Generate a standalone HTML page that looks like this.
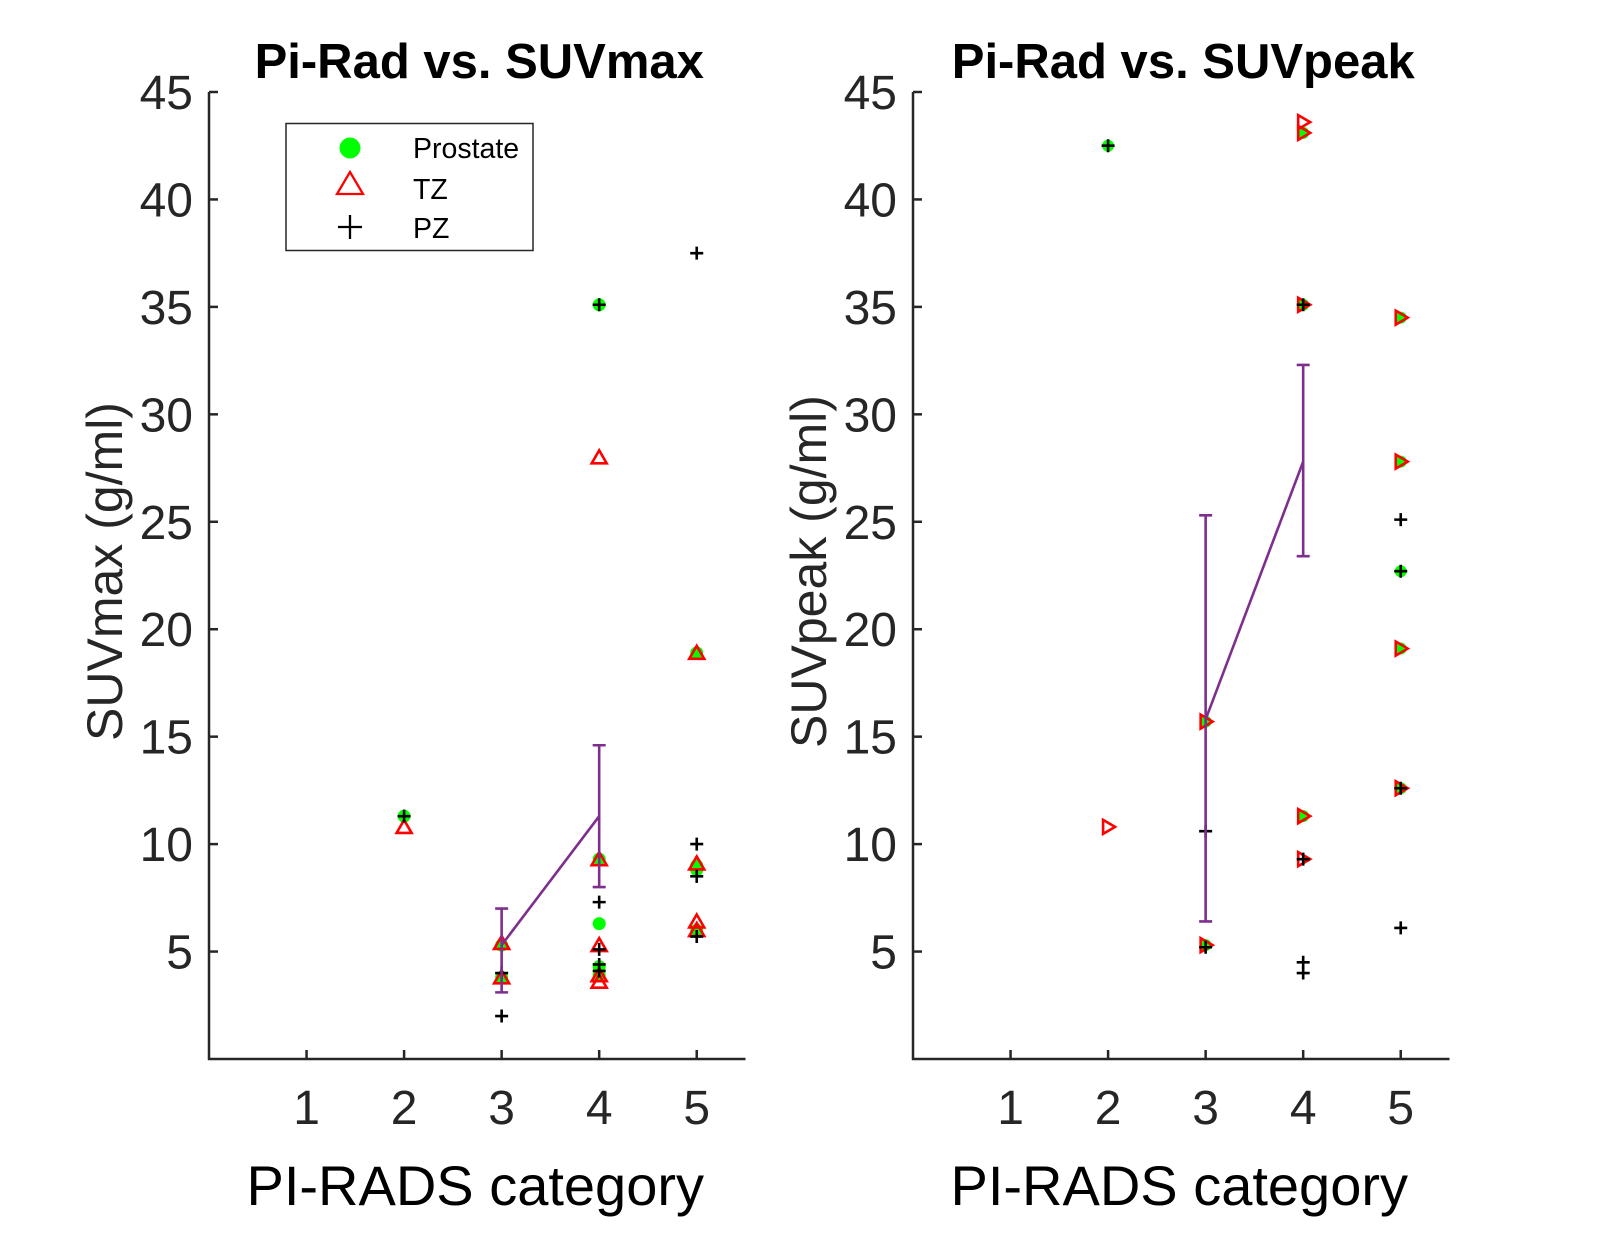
<!DOCTYPE html>
<html><head><meta charset="utf-8">
<style>
html,body{margin:0;padding:0;background:#fff;}
svg{display:block;font-family:"Liberation Sans",Arial,sans-serif;}
</style></head>
<body>
<svg id="chart" width="1601" height="1252" viewBox="0 0 1601 1252" xmlns="http://www.w3.org/2000/svg"></svg>
<script>
// ---------- data ----------
const categories = [1, 2, 3, 4, 5];
const yTicks = [5, 10, 15, 20, 25, 30, 35, 40, 45];

// Left panel: SUVmax
const maxProstateX = [2, 3, 3, 4, 4, 4, 4, 4, 5, 5, 5, 5];
const maxProstateY = [11.3, 5.3, 3.8, 35.1, 9.3, 6.3, 4.3, 3.9, 18.9, 9.0, 8.8, 6.0];
const maxTZX = [2, 3, 3, 4, 4, 4, 4, 4, 5, 5, 5, 5];
const maxTZY = [10.8, 5.4, 3.8, 28.0, 9.3, 5.3, 3.9, 3.6, 18.9, 9.1, 6.4, 6.0];
const maxPZX = [2, 3, 3, 4, 4, 4, 4, 4, 5, 5, 5, 5];
const maxPZY = [11.3, 4.0, 2.0, 35.1, 7.3, 5.1, 4.4, 4.1, 37.5, 10.0, 8.5, 5.7];
const maxMeanX = [3, 4];
const maxMeanY = [5.3, 11.3];
const maxErrLow = [3.1, 8.0];
const maxErrHigh = [7.0, 14.6];

// Right panel: SUVpeak
const peakProstateX = [2, 3, 3, 4, 4, 4, 5, 5, 5, 5, 5];
const peakProstateY = [42.5, 15.7, 5.3, 43.1, 35.1, 11.3, 34.5, 27.8, 22.7, 19.1, 12.6];
const peakTZX = [2, 3, 3, 4, 4, 4, 4, 4, 5, 5, 5, 5];
const peakTZY = [10.8, 15.7, 5.3, 43.6, 43.1, 35.1, 11.3, 9.3, 34.5, 27.8, 19.1, 12.6];
const peakPZX = [2, 3, 3, 4, 4, 4, 4, 5, 5, 5, 5];
const peakPZY = [42.5, 10.6, 5.2, 35.1, 9.3, 4.5, 4.0, 25.1, 22.7, 12.6, 6.1];
const peakMeanX = [3, 4];
const peakMeanY = [15.8, 27.8];
const peakErrLow = [6.4, 23.4];
const peakErrHigh = [25.3, 32.3];

// ---------- drawing ----------
const NS = "http://www.w3.org/2000/svg";
const svg = document.getElementById('chart');
function mk(tag, attrs, parent) {
  const e = document.createElementNS(NS, tag);
  for (const k in attrs) e.setAttribute(k, attrs[k]);
  (parent || svg).appendChild(e);
  return e;
}
const Y0 = 1059, Y45 = 92;
function yScale(v) { return Y0 + (Y45 - Y0) * v / 45; }

function drawPanel(p) {
  const g = mk('g', {});
  
  
  const x0 = p.x0, x55 = p.x0 + 536.5;
  const xScale = v => x0 + (x55 - x0) * v / 5.5;
  const ax = mk('path', {d: `M${x0},${Y45} L${x0},${Y0} L${x55},${Y0}`, fill: 'none', stroke: '#262626', 'stroke-width': 2.5}, g);
  
  
  categories.forEach(c => {
    const X = xScale(c);
    const t = mk('line', {x1: X, x2: X, y1: Y0, y2: Y0 - 9, stroke: '#262626', 'stroke-width': 2.5}, g);
    
    
    const l = mk('text', {x: X, y: 1124, 'font-size': 48, fill: '#262626', 'text-anchor': 'middle'}, g);
    l.textContent = c;
    
    
  });
  yTicks.forEach(v => {
    const Y = yScale(v);
    const t = mk('line', {x1: x0, x2: x0 + 9, y1: Y, y2: Y, stroke: '#262626', 'stroke-width': 2.5}, g);
    
    
    const l = mk('text', {x: x0 - 16, y: Y + 17, 'font-size': 48, fill: '#262626', 'text-anchor': 'end'}, g);
    l.textContent = v;
    
    
  });
  const title = mk('text', {x: (x0 + x55) / 2 + 2, y: 78, 'font-size': 49, 'font-weight': 'bold', fill: '#000', 'text-anchor': 'middle'}, g);
  title.textContent = p.title;
  
  
  const xl = mk('text', {x: (x0 + x55) / 2 - 2, y: 1205, 'font-size': 56, fill: '#000', 'text-anchor': 'middle'}, g);
  xl.textContent = 'PI-RADS category';
  
  
  const ylx = x0 - 87, yly = (Y0 + Y45) / 2 - 4;
  const yl = mk('text', {x: ylx, y: yly, 'font-size': 50, fill: '#262626', 'text-anchor': 'middle', transform: `rotate(-90 ${ylx} ${yly})`}, g);
  yl.textContent = p.ylabel;
  
  

  p.prosX.forEach((c, i) => {
    const m = mk('circle', {cx: xScale(c), cy: yScale(p.prosY[i]), r: p.tri === 'up' ? 6.5 : 6, fill: '#00ff00'}, g);
    
    
  });
  p.tzX.forEach((c, i) => {
    const X = xScale(c), Y = yScale(p.tzY[i]);
    let d;
    if (p.tri === 'up') d = `M${X},${Y - 7} L${X + 7.5},${Y + 6} L${X - 7.5},${Y + 6} Z`;
    else d = `M${X + 7},${Y} L${X - 5},${Y - 7} L${X - 5},${Y + 7} Z`;
    const m = mk('path', {d, fill: 'none', stroke: '#ff0000', 'stroke-width': 2.6, 'stroke-linejoin': 'miter'}, g);
    
    
  });
  p.pzX.forEach((c, i) => {
    const X = xScale(c), Y = yScale(p.pzY[i]);
    const m = mk('path', {d: `M${X - 6.5},${Y} L${X + 6.5},${Y} M${X},${Y - 6.5} L${X},${Y + 6.5}`, stroke: '#000', 'stroke-width': 2.6}, g);
    
    
  });
  const purple = '#7e2f8e';
  const pts = p.meanX.map((c, i) => `${xScale(c)},${yScale(p.meanY[i])}`).join(' ');
  const ln = mk('polyline', {points: pts, fill: 'none', stroke: purple, 'stroke-width': 2.6}, g);
  
  
  p.meanX.forEach((c, i) => {
    const X = xScale(c), Yl = yScale(p.errLo[i]), Yh = yScale(p.errHi[i]);
    const e = mk('path', {d: `M${X},${Yl} L${X},${Yh} M${X - 6.5},${Yl} L${X + 6.5},${Yl} M${X - 6.5},${Yh} L${X + 6.5},${Yh}`, fill: 'none', stroke: purple, 'stroke-width': 2.6}, g);
    
    
  });
}

drawPanel({name: 'suvmax-panel', x0: 209, title: 'Pi-Rad vs. SUVmax', ylabel: 'SUVmax (g/ml)', tri: 'up',
  prosX: maxProstateX, prosY: maxProstateY, tzX: maxTZX, tzY: maxTZY, pzX: maxPZX, pzY: maxPZY,
  meanX: maxMeanX, meanY: maxMeanY, errLo: maxErrLow, errHi: maxErrHigh});
drawPanel({name: 'suvpeak-panel', x0: 913, title: 'Pi-Rad vs. SUVpeak', ylabel: 'SUVpeak (g/ml)', tri: 'right',
  prosX: peakProstateX, prosY: peakProstateY, tzX: peakTZX, tzY: peakTZY, pzX: peakPZX, pzY: peakPZY,
  meanX: peakMeanX, meanY: peakMeanY, errLo: peakErrLow, errHi: peakErrHigh});

const lg = mk('g', {});


mk('rect', {x: 286, y: 123.5, width: 247, height: 127, fill: '#fff', stroke: '#262626', 'stroke-width': 1.5}, lg);
const e1 = mk('circle', {cx: 350, cy: 148, r: 10.5, fill: '#00ff00'}, lg);


const e2 = mk('path', {d: 'M350,172 L363,194 L337,194 Z', fill: 'none', stroke: '#ff0000', 'stroke-width': 2.3}, lg);


const e3 = mk('path', {d: 'M338,227 L362,227 M350,215 L350,239', stroke: '#000', 'stroke-width': 2.3}, lg);


[['Prostate', 158], ['TZ', 199], ['PZ', 238]].forEach(([t, y]) => {
  const tx = mk('text', {x: 413, y: y, 'font-size': 28.5, fill: '#000'}, lg);
  tx.textContent = t;
  
  
});
</script>
</body></html>
